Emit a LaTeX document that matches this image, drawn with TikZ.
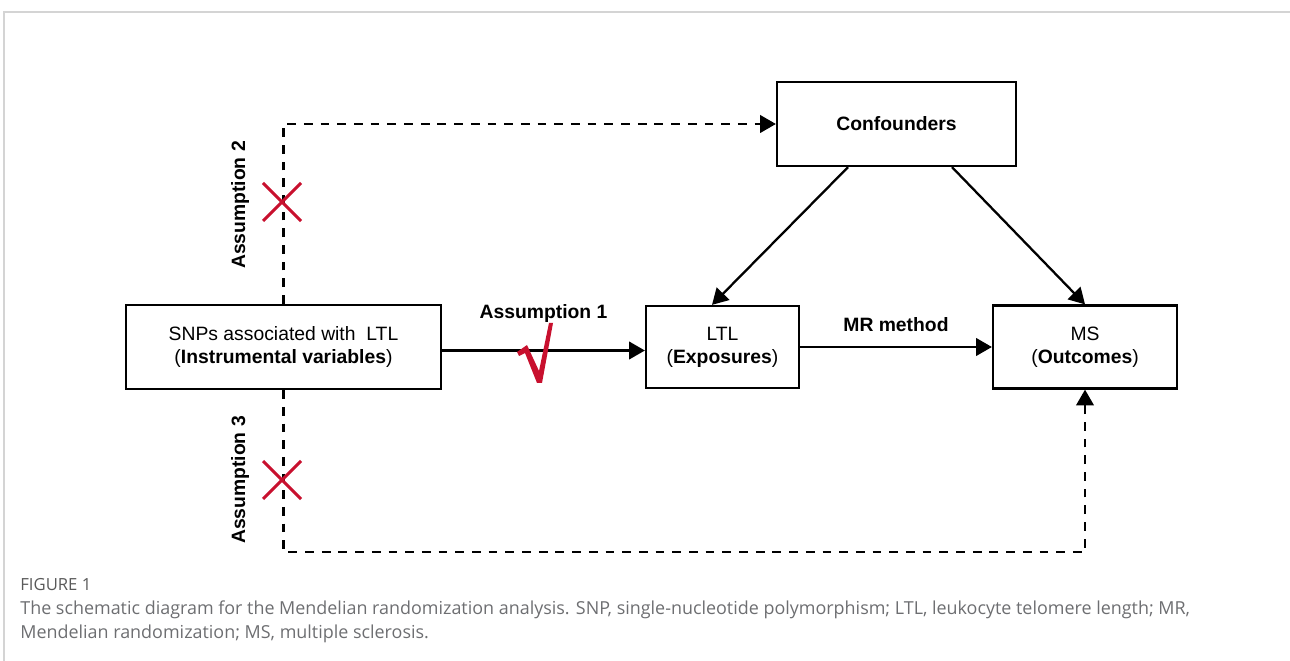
\documentclass[tikz,border=0pt]{standalone}
\usepackage{fontspec}
\setmainfont{Liberation Sans}
\newfontfamily\capfont{Open Sans}
\usetikzlibrary{arrows.meta}
\usetikzlibrary{positioning}
\definecolor{crossred}{HTML}{C8102E}
\definecolor{capgray}{HTML}{6D6E71}
\definecolor{framegray}{HTML}{D4D4D4}
\tikzset{>={Triangle[length=9pt,width=10pt]}, x=0.02cm, y=-0.02cm, font=\fontsize{11}{13}\selectfont}
\tikzstyle{block} = [draw=black, line width=1.3pt, rectangle, inner sep=0pt, align=center]
\tikzstyle{line} = [draw=black, line width=1.3pt]
\tikzstyle{dashline} = [line, dash pattern=on 5pt off 4.5pt]
\tikzstyle{cross} = [draw=crossred, line width=1.8pt]
\tikzstyle{asm} = [font=\fontsize{11}{13}\selectfont\bfseries]
\tikzstyle{captext} = [anchor=base west, inner sep=0pt, text=capgray, font=\capfont\fontsize{10.2}{12}\selectfont]

\begin{document}
\begin{tikzpicture}
	\useasboundingbox (0,0) rectangle (1290,661);
	\draw [framegray, line width=1pt] (4,661) -- (4,12) -- (1290,12);

	\node [block, minimum width=6.3cm, minimum height=1.68cm] (snp) at (283.5,347) {SNPs associated with~ LTL\\(\textbf{Instrumental variables})};
	\node [block, minimum width=3.06cm, minimum height=1.64cm] (ltl) at (722.5,347) {LTL\\(\textbf{Exposures})};
	\node [block, minimum width=3.68cm, minimum height=1.66cm] (ms) at (1085,347) {MS\\(\textbf{Outcomes})};
	\node [block, asm, minimum width=4.78cm, minimum height=1.68cm] (conf) at (896.5,124) {Confounders};

	\draw [line, ->] ([yshift=-2pt]snp.east) -- node [asm, above=12pt] (asm1) {Assumption 1} ([yshift=-2pt]ltl.west);
	\draw [line, ->] (ltl) -- node [asm, above=5pt] (mr) {MR method} (ms);
	\draw [line, ->] ([xshift=-0.97cm]conf.south) -- ([xshift=-0.21cm]ltl.north);
	\draw [line, ->] ([xshift=1.11cm]conf.south) -- (ms.north);
	\draw [dashline, ->] (snp.north) |- (conf.west);
	\draw [dashline, ->] (snp.south) -- ++(0,162) -| (ms.south);

	\node [asm, rotate=90] (asm2) at (240,205) {Assumption 2};
	\node [asm, rotate=90] (asm3) at (240,480) {Assumption 3};

	% red marks
	\foreach \y in {202,480} {
		\draw [cross] (263,\y-19) -- (301,\y+19);
		\draw [cross] (263,\y+19) -- (301,\y-19);
	}
	\fill [crossred] (517,352) -- (527,345) -- (539,371) -- (549,323) -- (553,323) -- (542,383) -- (537,383) -- (525,353) -- (519,356) -- cycle;

	% caption
	\node [captext, text=black!65, font=\capfont\fontsize{9.5}{11}\selectfont] (fig) at (20,590) {FIGURE 1};
	\node [captext] (cap1) at (20,614) {The schematic diagram for the Mendelian randomization analysis. SNP, single-nucleotide polymorphism; LTL, leukocyte telomere length; MR,};
	\node [captext] (cap2) at (20,638) {Mendelian randomization; MS, multiple sclerosis.};
\end{tikzpicture}
\end{document}
